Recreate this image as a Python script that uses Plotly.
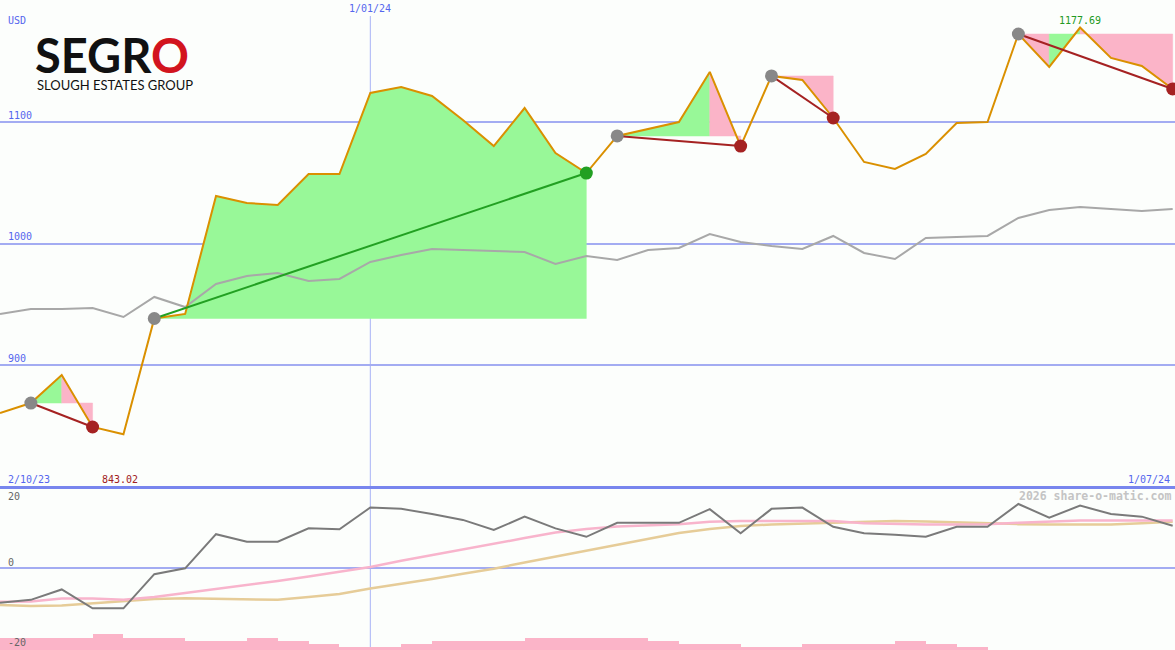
import plotly.graph_objects as go

# ---------------- data ----------------
idx = list(range(39))
price = [860.5, 868.7, 891.8, 849.0, 843.02, 938.3, 942.0, 1039.1, 1033.3, 1031.7,
         1057.2, 1057.2, 1123.9, 1128.8, 1121.4, 1101.6, 1080.2, 1111.5, 1074.5, 1058.0,
         1088.5, 1094.2, 1100.0, 1141.2, 1080.2, 1137.9, 1134.6, 1103.3, 1067.1, 1061.3,
         1073.7, 1099.2, 1100.0, 1172.4, 1145.3, 1177.69, 1152.7, 1146.1, 1127.2]
index_line = [942.0, 946.1, 946.1, 946.9, 939.5, 956.0, 947.7, 966.7, 973.3, 975.7,
              969.1, 970.8, 984.8, 990.5, 995.5, 994.7, 993.8, 993.0, 983.1, 989.7,
              986.4, 994.7, 996.3, 1007.8, 1001.2, 998.0, 995.5, 1006.2, 992.2, 987.2,
              1004.5, 1005.3, 1006.2, 1021.0, 1027.6, 1030.0, 1028.4, 1026.7, 1028.4]
osc_main = [-10.7, -9.8, -6.6, -12.4, -12.4, -1.9, -0.1, 10.4, 8.1, 8.1,
            12.2, 11.9, 18.6, 18.2, 16.6, 14.8, 11.7, 15.8, 12.2, 9.6,
            13.9, 13.8, 13.9, 18.1, 10.7, 18.2, 18.6, 12.7, 10.7, 10.2,
            9.6, 12.7, 12.7, 19.7, 15.5, 19.2, 16.6, 15.8, 13.0]
osc_pink = [-10.4, -10.3, -9.4, -9.4, -9.8, -8.9, -7.7, -6.5, -5.2, -4.0,
            -2.6, -1.2, 0.3, 2.2, 4.0, 5.7, 7.4, 9.2, 10.9, 12.0,
            12.8, 13.2, 13.5, 14.2, 14.5, 14.5, 14.6, 14.5, 13.8, 13.5,
            13.4, 13.4, 13.5, 13.9, 14.3, 14.6, 14.6, 14.6, 14.6]
osc_tan = [-11.4, -11.7, -11.5, -10.8, -10.1, -9.5, -9.3, -9.4, -9.7, -9.8,
           -8.9, -8.0, -6.3, -4.9, -3.4, -1.8, -0.2, 1.7, 3.5, 5.5,
           7.2, 9.1, 10.8, 12.0, 12.9, 13.4, 13.7, 14.0, 14.3, 14.5,
           14.3, 14.0, 13.7, 13.5, 13.4, 13.4, 13.4, 13.8, 14.2]
hist_levels = [4, 4, 4, 5, 4, 4, 3, 3, 4, 3, 2, 1, 1, 2, 3, 3, 3, 4, 4, 4,
               4, 3, 2, 2, 1, 1, 2, 2, 2, 3, 2, 1, 0, 0, 0, 0, 0, 0]

trade_entry = [1, 5, 20, 25, 33]
trade_exit = [3, 19, 24, 27, 38]
trade_win = [False, True, False, False, False]
# colour of each shaded segment of each trade ('g' gain, 'p' loss)
trade_seg_colors = ["gp", "gggggggggggggg", "gggp", "pp", "pgppp"]

date_start = "2/10/23"
date_mid = "1/01/24"
date_end = "1/07/24"
mid_index = 12
price_ticks = [900, 1000, 1100]
osc_labels = ["20", "0", "-20"]
max_label = "1177.69"
min_label = "843.02"

# ---------------- styles ----------------
BG = "#FCFEFC"
GRID = "#A3ACF2"
BLUE_TXT = "#5566EE"
ORANGE = "#DA9000"
GREEN_FILL = "#98F898"
PINK_FILL = "#FBB4C8"
MONO = "DejaVu Sans Mono"

fig = go.Figure()

# trade shading: runs of equal colour become one polygon against the entry level
for e, x, cols in zip(trade_entry, trade_exit, trade_seg_colors):
    E = price[e]
    k = e
    while k < x:
        c = cols[k - e]
        j = k
        while j < x and cols[j - e] == c:
            j += 1
        xs = [k] + list(range(k, j + 1)) + [j, k]
        ys = [E] + price[k:j + 1] + [E, E]
        col = GREEN_FILL if c == "g" else PINK_FILL
        fig.add_trace(go.Scatter(
            x=xs, y=ys, mode="lines", fill="toself",
            line=dict(width=0.5, color=col), fillcolor=col,
            hoverinfo="skip", showlegend=False, xaxis="x", yaxis="y"))
        k = j

# index line (grey)
fig.add_trace(go.Scatter(x=idx, y=index_line, mode="lines",
                         line=dict(color="#A8A8A8", width=2),
                         showlegend=False, xaxis="x", yaxis="y"))
# price line
fig.add_trace(go.Scatter(x=idx, y=price, mode="lines",
                         line=dict(color=ORANGE, width=2),
                         showlegend=False, xaxis="x", yaxis="y"))
# trade lines + markers
for e, x, w in zip(trade_entry, trade_exit, trade_win):
    col = "#22A022" if w else "#A52222"
    fig.add_trace(go.Scatter(x=[e, x], y=[price[e], price[x]], mode="lines",
                             line=dict(color=col, width=2),
                             showlegend=False, xaxis="x", yaxis="y"))
    fig.add_trace(go.Scatter(x=[e], y=[price[e]], mode="markers",
                             marker=dict(color="#888888", size=13),
                             showlegend=False, xaxis="x", yaxis="y"))
    fig.add_trace(go.Scatter(x=[x], y=[price[x]], mode="markers",
                             marker=dict(color=col, size=13),
                             showlegend=False, xaxis="x", yaxis="y"))

# lower panel
fig.add_trace(go.Bar(x=[i + 0.5 for i in range(len(hist_levels))], y=hist_levels,
                     width=1, marker=dict(color=PINK_FILL, line=dict(width=0)),
                     showlegend=False, xaxis="x2", yaxis="y3"))
fig.add_trace(go.Scatter(x=idx, y=osc_tan, mode="lines",
                         line=dict(color="#E6CC98", width=2.5),
                         showlegend=False, xaxis="x2", yaxis="y2"))
fig.add_trace(go.Scatter(x=idx, y=osc_pink, mode="lines",
                         line=dict(color="#F8B4CC", width=2.5),
                         showlegend=False, xaxis="x2", yaxis="y2"))
fig.add_trace(go.Scatter(x=idx, y=osc_main, mode="lines",
                         line=dict(color="#7A7A7A", width=2),
                         showlegend=False, xaxis="x2", yaxis="y2"))

xr = [0, 1175 / 30.86]
fig.update_layout(
    width=1175, height=650, margin=dict(l=0, r=0, t=0, b=0),
    paper_bgcolor=BG, plot_bgcolor=BG, bargap=0, hovermode=False,
    xaxis=dict(domain=[0, 1], range=xr, anchor="y", showgrid=False,
               showticklabels=False, zeroline=False, ticks=""),
    xaxis2=dict(domain=[0, 1], range=xr, anchor="y2", showgrid=False,
                showticklabels=False, zeroline=False, ticks=""),
    yaxis=dict(domain=[0.25, 1], range=[799.2, 1200.4], tickvals=price_ticks,
               showgrid=True, gridcolor=GRID, gridwidth=2, showticklabels=False,
               zeroline=False, ticks=""),
    yaxis2=dict(domain=[0, 0.25], range=[-25.23, 24.77], tickvals=[0],
                showgrid=True, gridcolor=GRID, gridwidth=2, showticklabels=False,
                zeroline=False, ticks=""),
    yaxis3=dict(domain=[0, 0.25], range=[0, 52], overlaying="y2", visible=False),
)

# vertical date line and separator
fig.add_shape(type="line", xref="x", yref="paper", x0=mid_index, x1=mid_index,
              y0=0, y1=1 - 16 / 650, line=dict(color="#A8B4F6", width=1), layer="below")
fig.add_shape(type="line", xref="paper", yref="paper", x0=0, x1=1, y0=0.25, y1=0.25,
              line=dict(color="#7886EE", width=3))

def txt(x, y, s, color, size=10, xanchor="left", xref="paper", bold=False, family=MONO):
    fig.add_annotation(x=x, y=y, xref=xref, yref="paper", text=f"<b>{s}</b>" if bold else s,
                       showarrow=False, xanchor=xanchor, yanchor="middle",
                       font=dict(family=family, size=size, color=color))

px = lambda p: 1 - p / 650
txt(6 / 1175, px(20), "USD", BLUE_TXT)
for v in price_ticks:
    ypix = 122 + (1100 - v) * 1.215
    txt(6 / 1175, px(ypix - 7), str(v), BLUE_TXT)
txt(mid_index, px(9), date_mid, BLUE_TXT, xanchor="center", xref="x")
txt(6 / 1175, px(479), date_start, BLUE_TXT)
txt(1172 / 1175, px(479), date_end, BLUE_TXT, xanchor="right")
txt(100 / 1175, px(479), min_label, "#A02020")
txt(35, px(21), max_label, "#229922", xanchor="center", xref="x")
txt(6 / 1175, px(496), osc_labels[0], "#666666")
txt(6 / 1175, px(562), osc_labels[1], "#666666")
txt(6 / 1175, px(642), osc_labels[2], "#666666")
txt(1173 / 1175, px(496), "2026 share-o-matic.com", "#C4C4C4", size=11.5,
    xanchor="right", bold=True)

# logo
fig.add_annotation(x=33 / 1175, y=px(55), xref="paper", yref="paper",
                   text="SEGR<span style='color:#D2141E'>O</span>", showarrow=False,
                   xanchor="left", yanchor="middle",
                   font=dict(family="Lato", size=47, color="#111111", weight=700))
fig.add_annotation(x=35 / 1175, y=px(85), xref="paper", yref="paper",
                   text="SLOUGH ESTATES GROUP", showarrow=False,
                   xanchor="left", yanchor="middle",
                   font=dict(family="Lato", size=13, color="#111111"))

fig.write_html("out.html", config={"displayModeBar": False, "staticPlot": True},
               post_script="document.body.style.margin='0px';document.body.style.overflow='hidden';")
